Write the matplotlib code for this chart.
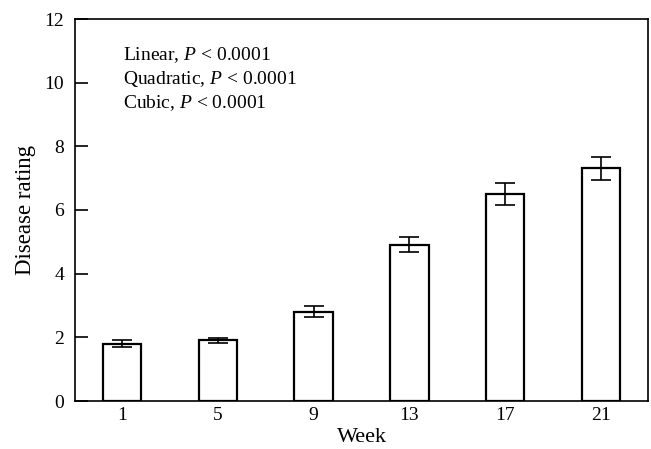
import numpy as np
import matplotlib.pyplot as plt

plt.rcParams['font.family'] = ['Liberation Serif', 'DejaVu Serif']
plt.rcParams['mathtext.fontset'] = 'custom'
plt.rcParams['mathtext.it'] = 'Liberation Serif:italic'
plt.rcParams['mathtext.rm'] = 'Liberation Serif'

weeks = ['1', '5', '9', '13', '17', '21']
rating = [1.80, 1.91, 2.81, 4.91, 6.51, 7.31]
err = [0.11, 0.08, 0.16, 0.23, 0.35, 0.36]
notes = ['Linear, $P$ < 0.0001', 'Quadratic, $P$ < 0.0001', 'Cubic, $P$ < 0.0001']

fig = plt.figure(figsize=(6.51, 4.49), dpi=100)
ax = fig.add_axes([75/651, 48/449, (648-75)/651, (401-19)/449])

x = np.arange(len(weeks))
ax.bar(x, rating, width=0.4, color='white', edgecolor='black', linewidth=1.6)
ax.errorbar(x, rating, yerr=err, fmt='none', ecolor='black', elinewidth=1.2,
            capsize=7.2, capthick=1.2)

ax.set_xlim(-0.49, 5.49)
ax.set_ylim(0, 12)
ax.set_xticks(x)
ax.set_xticklabels(weeks)
ax.set_yticks(range(0, 13, 2))
ax.tick_params(axis='y', direction='in', length=9, width=1.2, labelsize=14, pad=8)
ax.tick_params(axis='x', length=0, labelsize=14, pad=4)
for s in ax.spines.values():
    s.set_linewidth(1.2)

ax.set_xlabel('Week', fontsize=16, labelpad=3)
ax.set_ylabel('Disease rating', fontsize=16.5, labelpad=6)

for i, t in enumerate(notes):
    ax.text(0.083, 0.905 - i * 0.062, t, transform=ax.transAxes, fontsize=14,
            va='center', ha='left')

fig.savefig('out.png', dpi=100)
